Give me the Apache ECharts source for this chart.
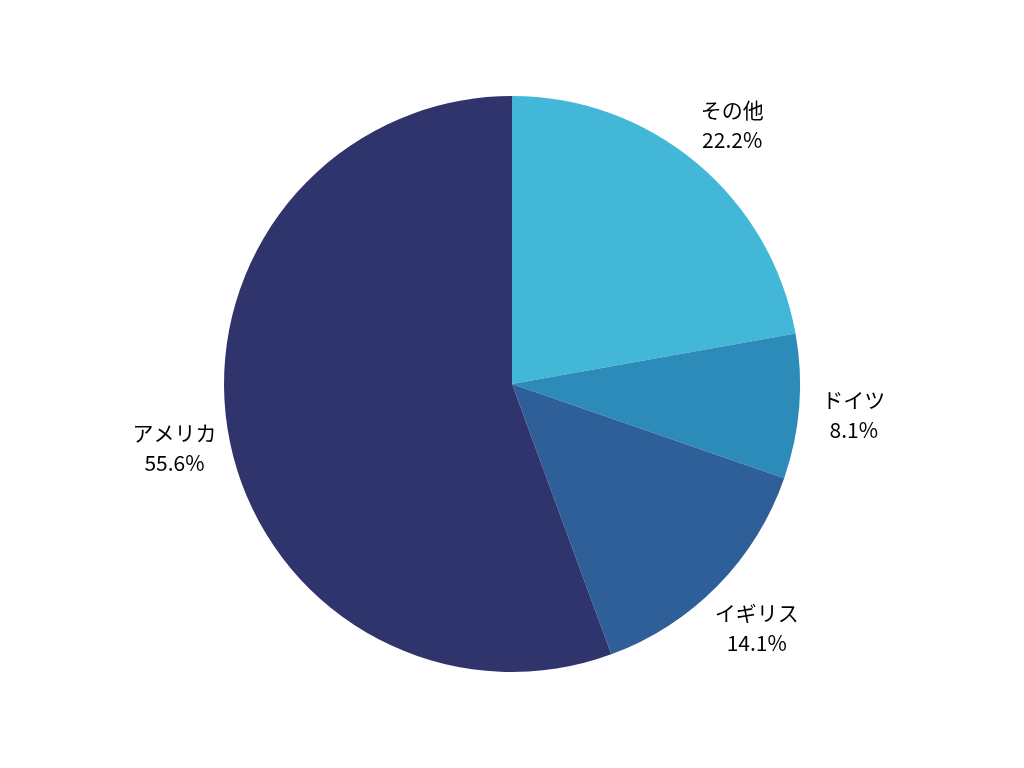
<!DOCTYPE html>
<html><head><meta charset="utf-8">
<script src="https://cdn.jsdelivr.net/npm/echarts@6/dist/echarts.min.js"></script>
<style>html,body{margin:0;padding:0;background:#fff}#c{width:1024px;height:768px}</style>
</head><body><div id="c"></div>
<script>
const categories = ['その他', 'ドイツ', 'イギリス', 'アメリカ'];
const values = [22.2, 8.1, 14.1, 55.6];
const colors = ['#42b7d7', '#2c8bb9', '#2e5f99', '#30346d'];

const data = categories.map((n, i) => ({ name: n, value: values[i], itemStyle: { color: colors[i] } }));
const chart = echarts.init(document.getElementById('c'));
chart.setOption({
  animation: false,
  series: [
    {
      type: 'pie', center: ['50%', '50%'], radius: ['0%', '75%'],
      startAngle: 90, clockwise: true, silent: true,
      data: data, label: { show: false }, labelLine: { show: false }
    },
    {
      type: 'pie', center: ['50%', '50%'], radius: ['85%', '92%'],
      startAngle: 90, clockwise: true, silent: true,
      data: data.map(d => ({ name: d.name, value: d.value, itemStyle: { color: 'rgba(0,0,0,0)' } })),
      label: {
        show: true, position: 'inside', offset: [0, 4],
        formatter: p => p.name + '\n' + p.value.toFixed(1) + '%',
        color: '#000', fontSize: 21, lineHeight: 30, align: 'center',
        fontFamily: '"Noto Sans CJK JP", "Noto Sans", sans-serif'
      },
      labelLine: { show: false }
    }
  ]
});
</script></body></html>
